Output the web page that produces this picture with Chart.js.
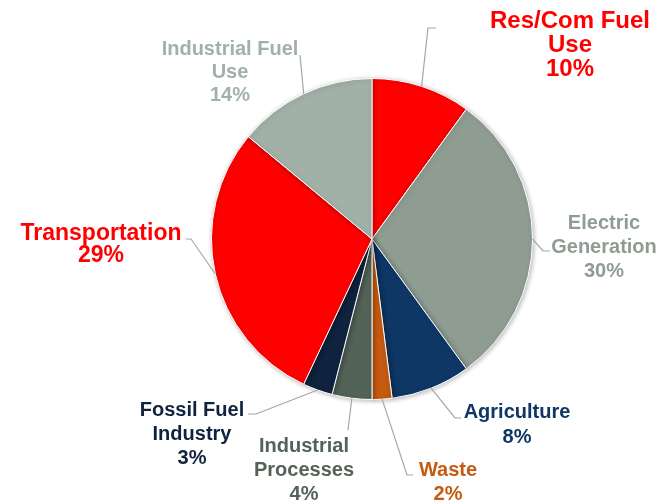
<!DOCTYPE html>
<html>
<head>
<meta charset="utf-8">
<script src="https://cdn.jsdelivr.net/npm/chart.js@4/dist/chart.umd.min.js"></script>
<style>
  html, body { margin: 0; padding: 0; background: #fff; }
  #wrap { width: 662px; height: 502px; position: relative; }
</style>
</head>
<body>
<div id="wrap"><canvas id="graf" width="662" height="502"></canvas></div>
<script>
// Data (clockwise from 12 o'clock)
const kategorie = ['Res/Com Fuel Use', 'Electric Generation', 'Agriculture', 'Waste',
  'Industrial Processes', 'Fossil Fuel Industry', 'Transportation', 'Industrial Fuel Use'];
const hodnoty = [10, 30, 8, 2, 4, 3, 29, 14];
// label text lines (last line = percentage)
const popisky = [
  ['Res/Com Fuel', 'Use'],
  ['Electric', 'Generation'],
  ['Agriculture'],
  ['Waste'],
  ['Industrial', 'Processes'],
  ['Fossil Fuel', 'Industry'],
  ['Transportation'],
  ['Industrial Fuel', 'Use']
];

// Styles
const barvy = ['#FF0000', '#8F9C92', '#0E3766', '#C55A11', '#536358', '#0F233F', '#FF0000', '#A2B1A7'];
const barvyTextu = ['#FF0000', '#8F9C92', '#0E3766', '#C55A11', '#536358', '#0F233F', '#FF0000', '#A2B1A7'];

// Label layout: text centre x, first line y, line gap, font size, leader elbow + tick end
const rozlozeni = [
  { x: 570, y: 21, gap: 24, size: 24, elbow: [428, 28], tick: [436, 28] },
  { x: 604, y: 223, gap: 24, size: 20, elbow: [543, 251], tick: [550, 251] },
  { x: 517, y: 412, gap: 25, size: 20, elbow: [455, 418], tick: [461, 418] },
  { x: 448, y: 470, gap: 24, size: 20, elbow: [407, 475], tick: [413, 475] },
  { x: 304, y: 446, gap: 24, size: 20, elbow: [348, 430], tick: null },
  { x: 192, y: 410, gap: 24, size: 20, elbow: [256, 414], tick: [248, 414] },
  { x: 101, y: 234, gap: 22, size: 23, elbow: [191, 239], tick: [186, 239] },
  { x: 230, y: 49, gap: 23, size: 20, elbow: [300, 55], tick: null }
];

// shadow under the pie
const stinPlugin = {
  id: 'stin',
  beforeDatasetsDraw(chart) {
    const ctx = chart.ctx;
    ctx.save();
    ctx.shadowColor = 'rgba(0,0,0,0.28)';
    ctx.shadowBlur = 5;
    ctx.shadowOffsetX = 1;
    ctx.shadowOffsetY = 1;
  },
  afterDatasetsDraw(chart) {
    chart.ctx.restore();
  }
};

// leader lines + labels
const popiskyPlugin = {
  id: 'popisky',
  afterDraw(chart) {
    const ctx = chart.ctx;
    const meta = chart.getDatasetMeta(0);
    meta.data.forEach((arc, i) => {
      const p = arc.getProps(['x', 'y', 'startAngle', 'endAngle', 'outerRadius'], true);
      const mid = (p.startAngle + p.endAngle) / 2;
      const sx = p.x + Math.cos(mid) * p.outerRadius;
      const sy = p.y + Math.sin(mid) * p.outerRadius;
      const l = rozlozeni[i];

      ctx.save();
      ctx.strokeStyle = '#A6A6A6';
      ctx.lineWidth = 1.2;
      ctx.beginPath();
      ctx.moveTo(sx, sy);
      ctx.lineTo(l.elbow[0], l.elbow[1]);
      if (l.tick) ctx.lineTo(l.tick[0], l.tick[1]);
      ctx.stroke();

      const radky = popisky[i].concat([hodnoty[i] + '%']);
      ctx.fillStyle = barvyTextu[i];
      ctx.font = 'bold ' + l.size + 'px "Liberation Sans", Arial, sans-serif';
      ctx.textAlign = 'center';
      ctx.textBaseline = 'middle';
      radky.forEach((t, k) => {
        ctx.fillText(t, l.x, l.y + k * l.gap);
      });
      ctx.restore();
    });
  }
};

new Chart(document.getElementById('graf').getContext('2d'), {
  type: 'pie',
  data: {
    labels: kategorie,
    datasets: [{
      data: hodnoty,
      backgroundColor: barvy,
      borderColor: '#FFFFFF',
      borderWidth: 1
    }]
  },
  options: {
    responsive: false,
    animation: false,
    layout: { padding: { left: 211, right: 129, top: 78, bottom: 102 } },
    plugins: {
      legend: { display: false },
      tooltip: { enabled: false }
    }
  },
  plugins: [stinPlugin, popiskyPlugin]
});
</script>
</body>
</html>
